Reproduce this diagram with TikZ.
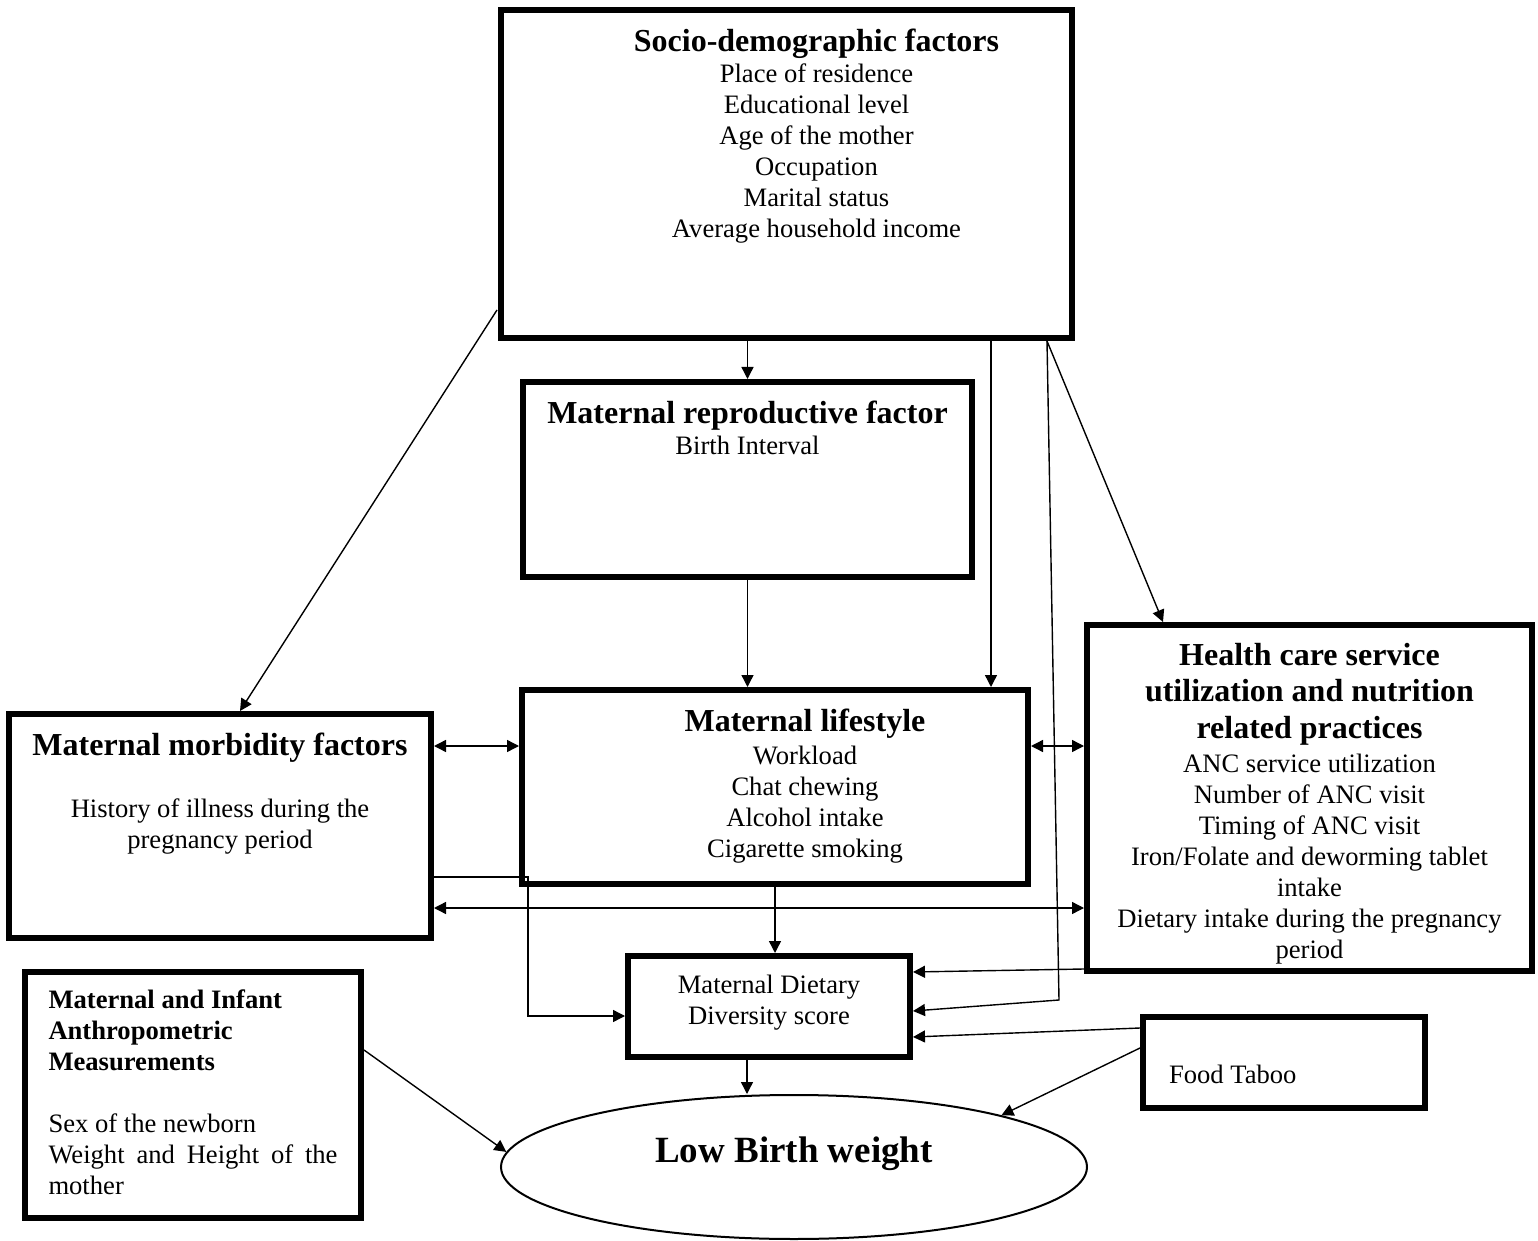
\documentclass[tikz,border=0pt]{standalone}
\usepackage{fontspec}
\setmainfont{Liberation Serif}
\usetikzlibrary{shapes.geometric}
\usetikzlibrary{arrows.meta}
\usetikzlibrary{calc}
\newcommand{\boxtitle}{\fontsize{16pt}{18pt}\selectfont\bfseries}

\begin{document}
\begin{tikzpicture}[x=0.5pt, y=-0.5pt,
    font=\fontsize{13.3pt}{15.5pt}\selectfont,
    box/.style={draw, rectangle, line width=3pt, inner sep=0pt},
    arr/.style={-{Triangle[length=6pt,width=6pt]}, line width=0.7pt},
    dblarr/.style={{Triangle[length=6pt,width=6pt]}-{Triangle[length=6pt,width=6pt]}, line width=0.7pt}]
            % Determinants of low birth weight
            \useasboundingbox (0,0) rectangle (1538,1241);

            \node[box, minimum width=285.5pt, minimum height=164pt, text height=21pt, text depth=143pt] (socio) at (786.5,174)
                {\hspace*{30pt}\begin{tabular}[t]{@{}c@{}}\boxtitle Socio-demographic factors\\ Place of residence\\ Educational level\\ Age of the mother\\ Occupation\\ Marital status\\ Average household income\end{tabular}};
            \node[box, minimum width=224.5pt, minimum height=97.5pt, text height=20.5pt, text depth=77pt] (repro) at (747.5,479.5)
                {\begin{tabular}[t]{@{}c@{}}\boxtitle Maternal reproductive factor\\ Birth Interval\end{tabular}};
            \node[box, minimum width=253pt, minimum height=97pt, text height=20.5pt, text depth=76.5pt] (lifestyle) at (775,787)
                {\hspace*{30pt}\begin{tabular}[t]{@{}c@{}}\boxtitle Maternal lifestyle\\[1pt] Workload\\ Chat chewing\\ Alcohol intake\\ Cigarette smoking\end{tabular}};
            \node[box, minimum width=211pt, minimum height=112pt, text height=20.5pt, text depth=91.5pt] (morbid) at (220,826)
                {\begin{tabular}[t]{@{}c@{}}\boxtitle Maternal morbidity factors\\ \\ History of illness during the\\ pregnancy period\end{tabular}};
            \node[box, minimum width=222.5pt, minimum height=173pt, text height=20pt, text depth=153pt] (health) at (1309.5,798)
                {\begin{tabular}[t]{@{}c@{}}\boxtitle Health care service\\[2.5pt] \boxtitle utilization and nutrition\\[2.5pt] \boxtitle related practices\\[1.5pt] ANC service utilization\\ Number of ANC visit\\ Timing of ANC visit\\ Iron/Folate and deworming tablet\\ intake\\ Dietary intake during the pregnancy\\ period\end{tabular}};
            \node[box, minimum width=141pt, minimum height=50.5pt, text height=18.5pt, text depth=32pt] (diet) at (769,1006.5)
                {\begin{tabular}[t]{@{}c@{}}Maternal Dietary\\ Diversity score\end{tabular}};
            \node[box, minimum width=168pt, minimum height=123pt, text width=144.5pt, align=justify, text height=18pt, text depth=105pt] (anthro) at (193,1095)
                {\sloppy\textbf{Maternal and Infant\\ Anthropometric\\ Measurements}\\[15.5pt] Sex of the newborn\\ Weight and Height of the mother};
            \node[box, minimum width=141pt, minimum height=45.5pt, text width=115pt, align=flush left, text height=33pt, text depth=12.5pt] (taboo) at (1284,1062.5) {Food Taboo};
            \node[draw, ellipse, line width=1pt, inner sep=0pt, minimum width=293pt, minimum height=72pt, text height=12.5pt, text depth=17.5pt, font=\fontsize{18.5pt}{21pt}\selectfont\bfseries] (lbw) at (794,1167) {Low Birth weight};

            \draw[arr] (repro.north |- socio.south) -- (repro.north);
            \draw[arr] ($(socio.south west)+(-1,-31)$) -- ($(morbid.north)+(20,0)$);
            \draw[arr] (repro.south) -- (repro.south |- lifestyle.north);
            \draw[arr] ($(socio.south west)+(493,0)$) coordinate (s1) -- (s1 |- lifestyle.north);
            \draw[arr] ($(socio.south west)+(549,0)$) -- ($(health.north west)+(79,0)$);
            \draw[arr] ($(socio.south west)+(549,0)$) -- ($(diet.north east)+(146,47)$) -- ($(diet.north east)+(0,58)$);
            \draw[dblarr] ($(morbid.north east)+(0,35)$) coordinate (m1) -- (m1 -| lifestyle.west);
            \draw[dblarr] ($(lifestyle.north east)+(0,59)$) coordinate (l1) -- (l1 -| health.west);
            \draw[dblarr] ($(morbid.north east)+(0,197)$) coordinate (m2) -- (m2 -| health.west);
            \draw[arr] ($(morbid.north east)+(0,166)$) -| ($(diet.north west)+(-97,63)$) -- ($(diet.north west)+(0,63)$);
            \draw[arr] (lifestyle.south) -- (lifestyle.south |- diet.north);
            \draw[arr] ($(health.south west)+(0,-5)$) -- ($(diet.north east)+(0,19)$);
            \draw[arr] ($(taboo.north west)+(0,14)$) -- ($(diet.north east)+(0,84)$);
            \draw[arr] ($(diet.south west)+(122,0)$) coordinate (d1) -- (d1 |- lbw.north);
            \draw[arr] ($(taboo.north west)+(0,34)$) -- (lbw.14);
            \draw[arr] ($(anthro.north east)+(0,81)$) -- (lbw.177);
        \end{tikzpicture}
\end{document}
